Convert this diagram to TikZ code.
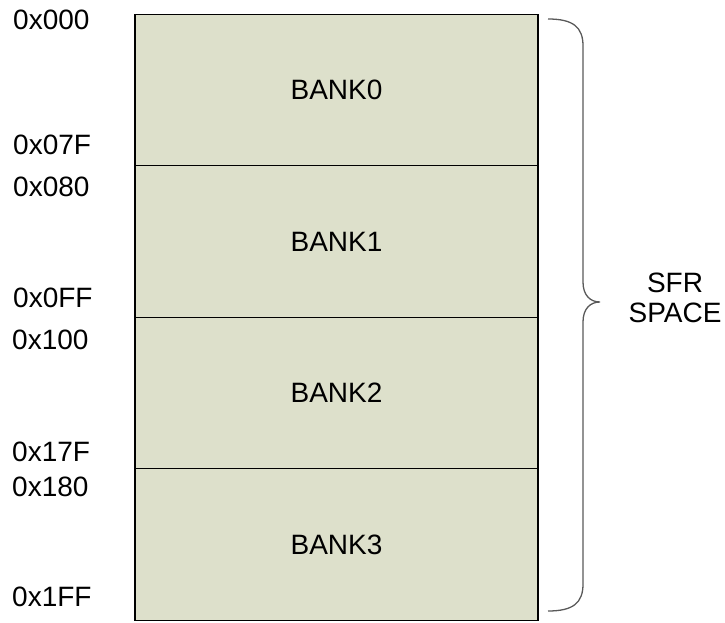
\documentclass[tikz,border=0pt]{standalone}
\usepackage{fontspec}
\setmainfont{Liberation Sans}
\usepackage{xcolor}
\usetikzlibrary{positioning}
\definecolor{bankfill}{RGB}{221,224,203}

\begin{document}
\begin{tikzpicture}[x=1pt, y=-1pt, font=\fontsize{28}{30}\selectfont,
    bank/.style={rectangle, draw, black, line width=1.2pt, fill=bankfill, minimum width=403pt, minimum height=151.5pt, inner sep=0pt},
    addr/.style={anchor=west, inner sep=0pt}]
        \useasboundingbox (0,0) rectangle (725,623);
        %banks
        \node[bank] (bank0) at (336.5,90){BANK0};
        \node[bank] (bank1) at (336.5,241.5){BANK1};
        \node[bank] (bank2) at (336.5,393){BANK2};
        \node[bank] (bank3) at (336.5,544.5){BANK3};
        %addresses
        \node[addr] (a000) at (13,20){0x000};
        \node[addr] (a07f) at (13,145){0x07F};
        \node[addr] (a080) at (13,187){0x080};
        \node[addr] (a0ff) at (13,298){0x0FF};
        \node[addr] (a100) at (12,340){0x100};
        \node[addr] (a17f) at (12,452){0x17F};
        \node[addr] (a180) at (12,487){0x180};
        \node[addr] (a1ff) at (12,597){0x1FF};
        %brace
        \coordinate (btop) at (548,19);
        \coordinate (btip) at (600,302);
        \coordinate (bbot) at (548,611);
        \draw[black!65, line width=1.3pt] (btop) .. controls (573,19) and (583,27) .. (583,46)
            -- (583,282) .. controls (583,295) and (590,302) .. (btip)
            .. controls (590,302) and (583,309) .. (583,322)
            -- (583,584) .. controls (583,603) and (573,611) .. (bbot);
        \node[align=center, inner sep=0pt] (sfr) at (675,298){SFR\\SPACE};
    \end{tikzpicture}
\end{document}
